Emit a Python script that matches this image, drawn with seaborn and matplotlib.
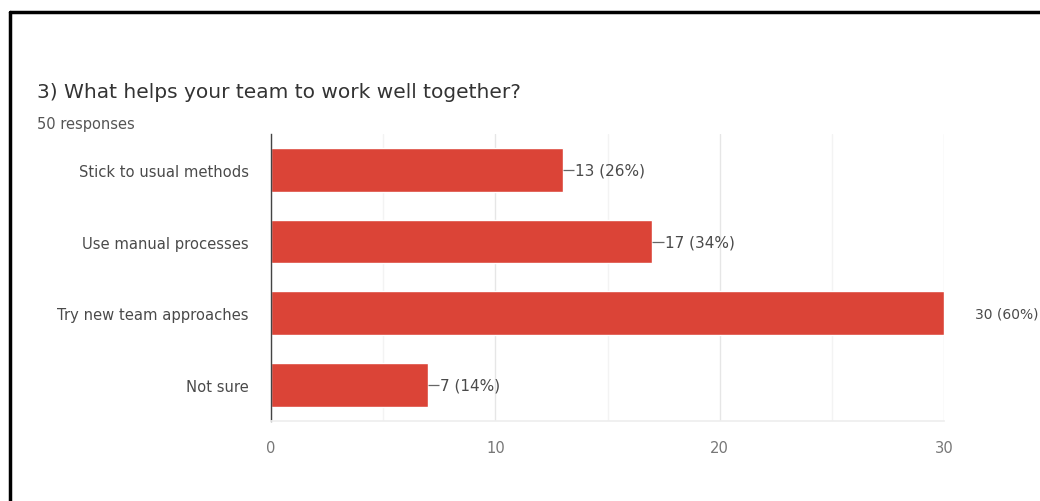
import matplotlib
matplotlib.use("Agg")
import matplotlib.pyplot as plt
import seaborn as sns
import pandas as pd
from matplotlib.lines import Line2D

categories = ["Stick to usual methods", "Use manual processes", "Try new team approaches", "Not sure"]
counts = [13, 17, 30, 7]
percents = [26, 34, 60, 14]
x_ticks = [0, 10, 20, 30]
title = "3) What helps your team to work well together?"
subtitle = "50 responses"

sns.set_theme(style="white")
plt.rcParams['font.family'] = ['DejaVu Sans']

df = pd.DataFrame({"category": categories, "count": counts})

fig = plt.figure(figsize=(10.4, 5.02), dpi=100)
ax = fig.add_axes([0.2606, 0.1594, 0.9077 - 0.2606, 0.7311 - 0.1594])

sns.barplot(data=df, x="count", y="category", orient="h", color="#DB4437",
            saturation=1, width=0.61, ax=ax)

ax.set_xlim(0, 30)
ax.set_ylim(3.5, -0.5)
ax.set_xticks(x_ticks)
ax.set_xticks([5, 15, 25], minor=True)
ax.grid(axis="x", which="major", color="#e6e6e6", linewidth=1)
ax.grid(axis="x", which="minor", color="#f3f3f3", linewidth=1)
ax.set_axisbelow(True)
for s in ["top", "right"]:
    ax.spines[s].set_visible(False)
ax.spines["bottom"].set_color("#eeeeee")
ax.spines["left"].set_color("#444444")
ax.spines["left"].set_linewidth(1)
ax.set_xlabel("")
ax.set_ylabel("")
ax.tick_params(axis="y", length=0, pad=16, labelsize=10.6, labelcolor="#4a4a4a")
ax.tick_params(axis="x", which="both", length=0, pad=14, labelsize=10.6, labelcolor="#777777")

for i, (c, p) in enumerate(zip(counts, percents)):
    label = f"{c} ({p}%)"
    if c >= 30:
        ax.text(c + 1.4, i, label, va="center", ha="left", fontsize=10, color="#4a4a4a", clip_on=False)
    else:
        ax.plot([c, c + 0.5], [i, i], color="#666666", linewidth=0.9, solid_capstyle="butt")
        ax.text(c + 0.55, i, label, va="center", ha="left", fontsize=11, color="#4a4a4a")

fig.text(37 / 1040, 1 - 92 / 502, title, fontsize=14.5, color="#333333", va="center", ha="left")
fig.text(37 / 1040, 1 - 124 / 502, subtitle, fontsize=10.5, color="#555555", va="center", ha="left")

# frame edges (left and top) of the screenshot card
fig.add_artist(Line2D([10 / 1040, 10 / 1040], [0, 1 - 13 / 502], transform=fig.transFigure,
                      color="black", linewidth=2.5))
fig.add_artist(Line2D([10 / 1040, 1], [1 - 13 / 502, 1 - 13 / 502], transform=fig.transFigure,
                      color="black", linewidth=2.5))

fig.savefig("out.png", dpi=100)
